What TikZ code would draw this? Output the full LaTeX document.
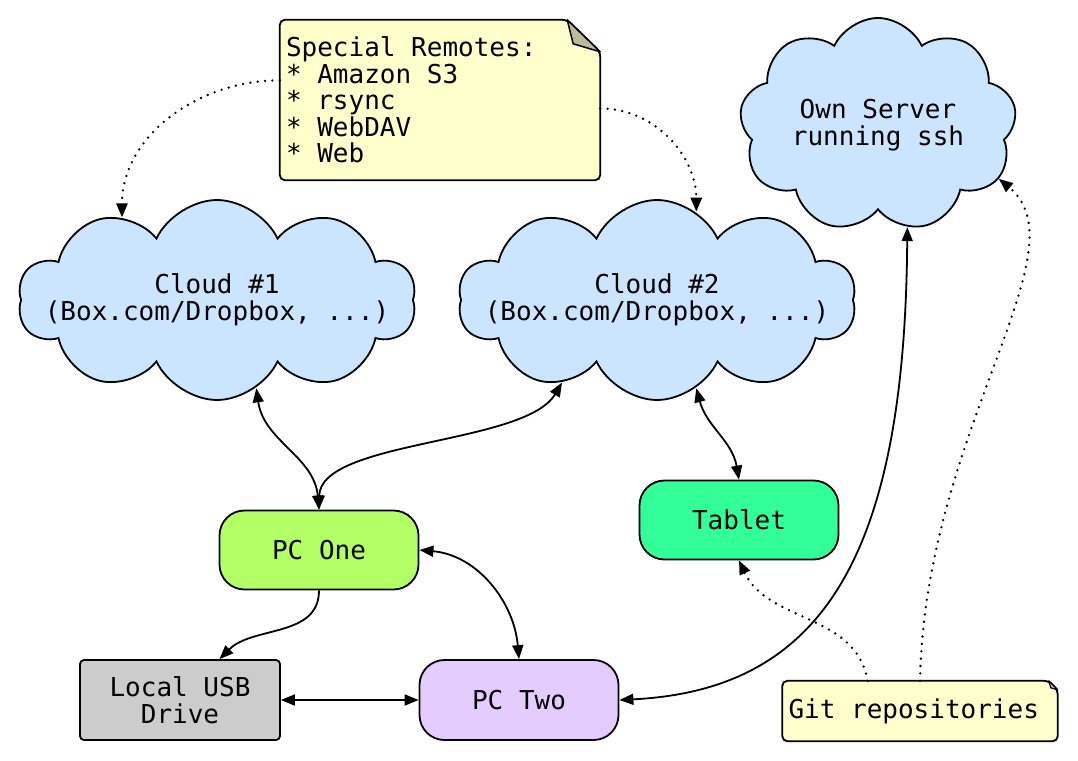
\documentclass[tikz,border=0pt]{standalone}
\usepackage{fontspec}
\setmonofont{DejaVu Sans Mono}
\usetikzlibrary{shapes.symbols,arrows.meta,calc,backgrounds}
\definecolor{cloudblue}{RGB}{204,229,255}
\definecolor{pcone}{RGB}{179,255,102}
\definecolor{tabletgreen}{RGB}{51,255,153}
\definecolor{usbgray}{RGB}{204,204,204}
\definecolor{pctwo}{RGB}{229,204,255}
\definecolor{noteyellow}{RGB}{255,255,204}
\definecolor{foldcol}{RGB}{187,187,153}
\newcommand{\zl}[1]{\makebox[0pt]{#1}}
\begin{document}
\begin{tikzpicture}[x=1pt,y=1pt,
  lbl/.style={font=\ttfamily\fontsize{26}{26.5}\selectfont},
  cloudnode/.style={lbl, cloud, cloud puffs=10, cloud puff arc=130, cloud ignores aspect,
    draw, fill=cloudblue, line width=1.8pt, inner sep=0pt, align=center},
  pill/.style={lbl, draw, line width=1.8pt, rounded corners=25pt, minimum width=199pt,
    minimum height=79pt, inner sep=0pt, align=center},
  boxnode/.style={lbl, draw, line width=1.8pt, rounded corners=4pt, minimum width=200pt,
    minimum height=80pt, inner sep=0pt, align=center},
  notenode/.style={lbl, inner xsep=6pt, inner ysep=0pt, align=left},
  noteshape/.style={draw, line width=1.8pt, fill=noteyellow, rounded corners=5pt},
  foldshape/.style={draw, line width=1.5pt, fill=foldcol, line join=round},
  conn/.style={line width=1.8pt},
  dotline/.style={line width=2.6pt, dash pattern=on 0pt off 7.4pt, line cap=round},
  >={Triangle[length=14pt,width=11pt]}
]
\useasboundingbox (0,0) rectangle (1078,-760);

% clouds
\node[cloudnode, minimum width=398pt, minimum height=200pt] (c1) at (217,-300)
  {\zl{Cloud \#1}\\\zl{(Box.com/Dropbox, ...)}};
\node[cloudnode, minimum width=398pt, minimum height=200pt] (c2) at (657,-300)
  {\zl{Cloud \#2}\\\zl{(Box.com/Dropbox, ...)}};
\node[cloudnode, cloud puffs=9, minimum width=277pt, minimum height=214pt] (srv) at (878,-125)
  {\zl{Own Server}\\\zl{running ssh}};

% devices
\node[pill, fill=pcone] (pc1) at (319,-550) {PC One};
\node[pill, fill=tabletgreen] (tab) at (739,-520) {Tablet};
\node[boxnode, fill=usbgray] (usb) at (180,-700) {Local USB\\Drive};
\node[pill, fill=pctwo, minimum height=80pt] (pc2) at (519,-700) {PC Two};

% notes
\node[notenode, text width=308pt, minimum height=160pt] (sr) at (440,-100)
  {\spaceskip=0pt\xspaceskip=0pt Special Remotes:\\{}* Amazon S3\\{}* rsync\\{}* WebDAV\\{}* Web};
\node[notenode, text width=263pt, minimum height=60pt] (git) at (920,-711)
  {\spaceskip=0pt\xspaceskip=0pt Git repositories};
\begin{pgfonlayer}{background}
  \draw[noteshape] (sr.south west) -- (sr.north west) -- ([xshift=-33pt]sr.north east)
    -- ([yshift=-32pt]sr.north east) -- (sr.south east) -- cycle;
  \draw[noteshape] (git.south west) -- (git.north west) -- ([xshift=-9pt]git.north east)
    -- ([yshift=-9pt]git.north east) -- (git.south east) -- cycle;
\end{pgfonlayer}
\draw[foldshape] ([xshift=-33pt]sr.north east) -- ([xshift=-27pt,yshift=-24pt]sr.north east)
  -- ([yshift=-32pt]sr.north east) -- cycle;
\draw[foldshape, line width=1.2pt] ([xshift=-9pt]git.north east) -- ([xshift=-7pt,yshift=-7pt]git.north east)
  -- ([yshift=-9pt]git.north east) -- cycle;

% solid connectors
\draw[conn,<->] (c1.-66) to[out=-82,in=95] (pc1.north);
\draw[conn,<->] (c2.-139) .. controls (525,-445) and (320,-440) .. (pc1.north);
\draw[conn,<->] (c2.-66) to[out=-75,in=100] (tab.north);
\draw[conn,->] (pc1.south) to[out=-90,in=45] (usb.46);
\draw[conn,<->] (pc1.east) to[out=-5,in=95] (pc2.north);
\draw[conn,<->] (usb.east) -- (pc2.west);
\draw[conn,<->] (srv.-74) .. controls (905,-560) and (820,-690) .. (pc2.east);

% dotted connectors
\draw[dotline,->] (sr.173) to[out=180,in=90] (c1.139);
\draw[dotline,->] (sr.-3) to[out=0,in=90] (c2.66);
\draw[dotline,->] (git.150) to[out=100,in=-65] (tab.south);
\draw[dotline,->] (git.north) .. controls (925,-430) and (1085,-250) .. (srv.-24);
\end{tikzpicture}
\end{document}
